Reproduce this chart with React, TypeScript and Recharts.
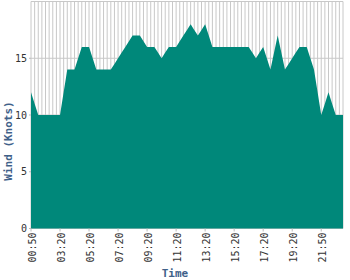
import type { FC, ReactNode } from 'react'

import { AreaChart, Area, XAxis, YAxis, CartesianGrid, Label } from 'recharts'

const TIMES: string[] = [
    '00:50', '01:10', '01:30', '01:50', '02:10', '02:30', '02:50', '03:05',
    '03:20', '03:35', '03:50', '04:05', '04:20', '04:35', '04:50', '05:05',
    '05:20', '05:35', '05:50', '06:05', '06:20', '06:35', '06:50', '07:05',
    '07:20', '07:35', '07:50', '08:05', '08:20', '08:35', '08:50', '09:05',
    '09:20', '09:35', '09:50', '10:05', '10:20', '10:35', '10:50', '11:05',
    '11:20', '11:35', '11:50', '12:05', '12:20', '12:35', '12:50', '13:05',
    '13:20', '13:35', '13:50', '14:05', '14:20', '14:35', '14:50', '15:05',
    '15:20', '15:35', '15:50', '16:05', '16:20', '16:35', '16:50', '17:05',
    '17:20', '17:35', '17:50', '18:05', '18:20', '18:35', '18:50', '19:05',
    '19:20', '19:40', '20:00', '20:20', '20:40', '21:00', '21:20', '21:35',
    '21:50', '22:05', '22:20', '22:35', '22:50', '23:05', '23:20'
]

const WIND: number[] = [
    12, 11, 10, 10, 10, 10, 10, 10, 10, 12,
    14, 14, 14, 15, 16, 16, 16, 15, 14, 14,
    14, 14, 14, 14.5, 15, 15.5, 16, 16.5, 17, 17,
    17, 16.5, 16, 16, 16, 15.5, 15, 15.5, 16, 16,
    16, 16.5, 17, 17.5, 18, 17.5, 17, 17.5, 18, 17,
    16, 16, 16, 16, 16, 16, 16, 16, 16, 16,
    16, 15.5, 15, 15.5, 16, 15, 14, 15.5, 17, 15.5,
    14, 14.5, 15, 15.5, 16, 16, 16, 15, 14, 12,
    10, 11, 12, 11, 10, 10, 10
]

const Y_TICKS: number[] = [0, 5, 10, 15]

const MONO = '"DejaVu Sans Mono", "Liberation Mono", monospace'
const TITLE_COLOR = '#3f6189'

const chartData = TIMES.map((time, i) => ({ time, wind: WIND[i] }))

const TimeTick = (props: any): ReactNode => {
    const { x, y, payload } = props
    return (
        <text
            x={x}
            y={y}
            dy={4.5}
            transform={`rotate(-90 ${x} ${y})`}
            textAnchor='end'
            fontFamily={MONO}
            fontSize={10}
            fill='#333'
        >
            {payload.value}
        </text>
    )
}

const WindTitle = (props: any): ReactNode => {
    const { viewBox } = props
    const x = viewBox.x + 11.5
    const y = viewBox.y + viewBox.height / 2 + 26
    return (
        <text
            x={x}
            y={y}
            transform={`rotate(-90 ${x} ${y})`}
            textAnchor='middle'
            fontFamily={MONO}
            fontWeight='bold'
            fontSize={11}
            fill={TITLE_COLOR}
        >
            Wind (Knots)
        </text>
    )
}

const App: FC = (): ReactNode => {
    return (
        <div style={{ width: 350, height: 280 }}>
            <style>{'body{margin:0}'}</style>
            <AreaChart
                width={350}
                height={280}
                data={chartData}
                margin={{ top: 1.5, right: 7, bottom: 0, left: 0 }}
            >
                <CartesianGrid
                    xAxisId='grid'
                    stroke='#c8c8c8'
                    strokeWidth={1}
                />
                <XAxis
                    xAxisId='grid'
                    dataKey='time'
                    interval={0}
                    hide
                />
                <XAxis
                    dataKey='time'
                    interval={7}
                    height={51.5}
                    axisLine={false}
                    tickLine={{ stroke: '#bbbbbb' }}
                    tickSize={3}
                    tickMargin={1}
                    tick={<TimeTick />}
                >
                    <Label
                        value='Time'
                        position='insideBottom'
                        offset={3.5}
                        dx={-12}
                        fill={TITLE_COLOR}
                        fontFamily={MONO}
                        fontWeight='bold'
                        fontSize={11}
                    />
                </XAxis>
                <YAxis
                    domain={[0, 20]}
                    ticks={Y_TICKS}
                    width={31}
                    axisLine={false}
                    tickLine={{ stroke: '#bbbbbb' }}
                    tickSize={2}
                    tickMargin={2}
                    tick={{ fontFamily: MONO, fontSize: 10, fill: '#333' }}
                >
                    <Label content={<WindTitle />} />
                </YAxis>
                <Area
                    type='linear'
                    dataKey='wind'
                    stroke='none'
                    fill='#00887a'
                    fillOpacity={1}
                    isAnimationActive={false}
                />
            </AreaChart>
        </div>
    )
}

export default App
